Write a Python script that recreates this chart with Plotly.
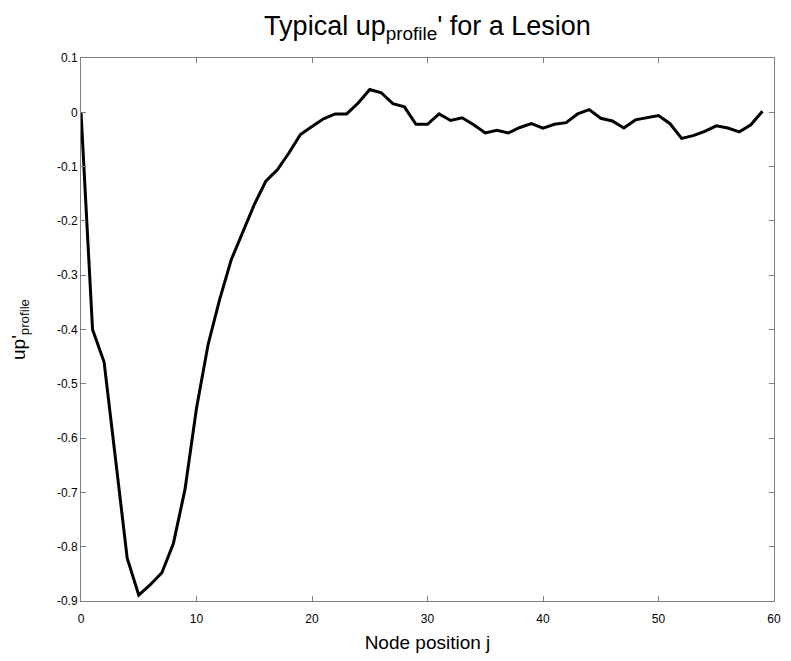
import plotly.graph_objects as go

node_j = list(range(60))
up_profile = [0.0, -0.400, -0.460, -0.640, -0.821, -0.889, -0.870, -0.848, -0.794, -0.695,
              -0.545, -0.428, -0.345, -0.272, -0.222, -0.170, -0.127, -0.106, -0.075, -0.041,
              -0.026, -0.012, -0.003, -0.003, 0.017, 0.042, 0.036, 0.016, 0.010, -0.022,
              -0.022, -0.003, -0.015, -0.010, -0.023, -0.038, -0.033, -0.038, -0.028, -0.021,
              -0.029, -0.022, -0.019, -0.003, 0.005, -0.011, -0.016, -0.029, -0.014, -0.010,
              -0.006, -0.021, -0.048, -0.043, -0.035, -0.025, -0.029, -0.036, -0.023, 0.002]

x_ticks = [0, 10, 20, 30, 40, 50, 60]
y_ticks = [-0.9, -0.8, -0.7, -0.6, -0.5, -0.4, -0.3, -0.2, -0.1, 0, 0.1]
y_tick_text = ["-0.9", "-0.8", "-0.7", "-0.6", "-0.5", "-0.4", "-0.3", "-0.2", "-0.1", "0", "0.1"]

fig = go.Figure(go.Scatter(x=node_j, y=up_profile, mode="lines",
                           line=dict(color="black", width=3), showlegend=False))

axis_common = dict(showline=True, linecolor="#7f7f7f", linewidth=1, mirror="ticks",
                   ticks="inside", ticklen=5, tickcolor="#7f7f7f", showgrid=False,
                   zeroline=False, tickfont=dict(family="Liberation Sans", size=12, color="black"))

fig.update_layout(
    width=791, height=661,
    paper_bgcolor="white", plot_bgcolor="white",
    margin=dict(l=81, r=10, t=58, b=60),
    title=dict(text="Typical up<sub>profile</sub>' for a Lesion", x=0.5, xref="paper",
               xanchor="center", y=0.962, yanchor="middle",
               font=dict(family="Liberation Sans", size=27, color="black")),
    xaxis=dict(range=[0, 60], tickvals=x_ticks, ticklabelstandoff=7,
               title=dict(text="Node position j", standoff=10,
                          font=dict(family="Liberation Sans", size=19, color="black")), **axis_common),
    yaxis=dict(range=[-0.9, 0.1], tickvals=y_ticks, ticktext=y_tick_text,
               title=dict(text="up'<sub>profile</sub>", standoff=26,
                          font=dict(family="Liberation Sans", size=19, color="black")), **axis_common),
)

fig.write_html("out.html")
